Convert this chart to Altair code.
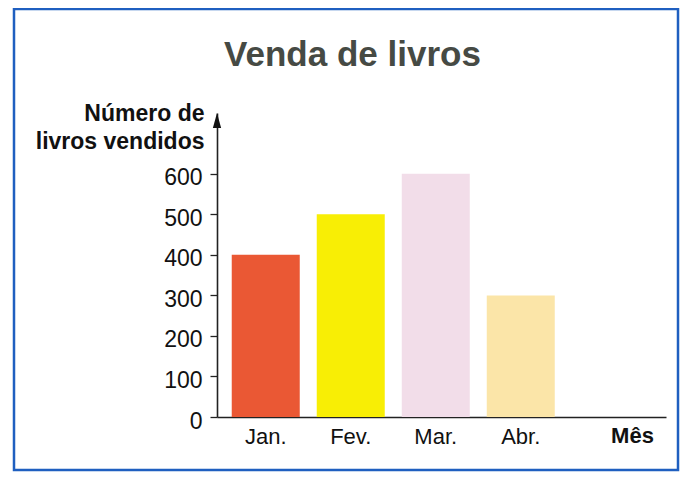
import altair as alt
import pandas as pd

months = ["Jan.", "Fev.", "Mar.", "Abr."]
sales = [400, 500, 600, 300]
bar_colors = ["#ea5834", "#f8ee05", "#f2dde9", "#fbe5a8"]
y_ticks = [0, 100, 200, 300, 400, 500, 600]

df = pd.DataFrame({"mes": months, "livros": sales})

FONT = "Liberation Sans"

bars = alt.Chart(df).mark_bar().encode(
    x=alt.X(
        "mes:N",
        sort=months,
        scale=alt.Scale(paddingInner=0.2, paddingOuter=0.741, align=0.117),
        axis=alt.Axis(
            title="Mês",
            titleFont=FONT,
            titleFontSize=22,
            titleFontWeight="bold",
            titleColor="#111111",
            titleAngle=0,
            titleAlign="center",
            titleBaseline="alphabetic",
            titleX=415,
            titleY=25,
            labelAngle=0,
            labelFont=FONT,
            labelFontSize=22,
            labelColor="#111111",
            labelPadding=9,
            ticks=False,
            domainColor="#222222",
            domainWidth=1.6,
            grid=False,
        ),
    ),
    y=alt.Y(
        "livros:Q",
        scale=alt.Scale(domain=[0, 750], nice=False),
        axis=alt.Axis(
            values=y_ticks,
            title=["Número de", "livros vendidos"],
            titleFont=FONT,
            titleFontSize=23,
            titleFontWeight="bold",
            titleColor="#111111",
            titleAngle=0,
            titleAlign="right",
            titleBaseline="alphabetic",
            titleLineHeight=28,
            titleX=-13,
            titleY=7,
            labelFont=FONT,
            labelFontSize=23,
            labelColor="#111111",
            labelPadding=8,
            labelOffset=4,
            tickSize=7,
            tickColor="#222222",
            tickWidth=1.3,
            domainColor="#222222",
            domainWidth=1.6,
            grid=False,
        ),
    ),
    color=alt.Color("mes:N", scale=alt.Scale(domain=months, range=bar_colors), legend=None),
)

frame_df = pd.DataFrame({"k": [0]})
frame = alt.Chart(frame_df).mark_rect(
    filled=False, stroke="#1f5fc0", strokeWidth=2.5
).encode(
    x=alt.value(-203), x2=alt.value(461), y=alt.value(-104), y2=alt.value(357)
)

arrow = alt.Chart(frame_df).mark_point(
    shape="M0,-1L0.55,1L-0.55,1Z", filled=True, fill="#111111", opacity=1, size=225, strokeWidth=0
).encode(x=alt.value(0), y=alt.value(7.5))

chart = alt.layer(frame, bars, arrow).properties(
    width=449,
    height=304,
    padding={"left": 209, "top": 105, "right": 14, "bottom": 55},
    autosize=alt.AutoSizeParams(type="none"),
    background="white",
    title=alt.TitleParams(
        "Venda de livros",
        font=FONT,
        fontSize=35,
        fontWeight="bold",
        color="#464a44",
        anchor="middle",
        dx=-89,
        dy=65,
        offset=0,
    ),
).configure_view(stroke=None)

chart.save("out.html", embed_options={"renderer": "svg", "actions": False})
